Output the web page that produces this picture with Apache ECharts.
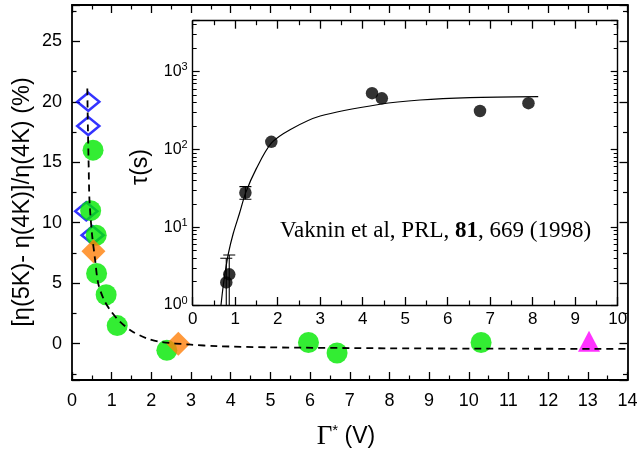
<!DOCTYPE html>
<html><head><meta charset="utf-8">
<script src="https://cdn.jsdelivr.net/npm/echarts@6/dist/echarts.min.js"></script>
<style>html,body{margin:0;padding:0;background:#fff}#c{width:641px;height:453px}</style>
</head><body><div id="c"></div>
<script>
// ---- main plot data ----
const blueOpen = [[0.41,20.0],[0.41,18.0],[0.36,10.95],[0.52,8.97]];
const greenPts = [[0.53,16.0],[0.47,11.0],[0.61,8.97],[0.62,5.8],[0.86,4.05],[1.14,1.5],[2.39,-0.55],[5.96,0.1],[6.68,-0.77],[10.31,0.1]];
const orangePts = [[0.54,7.65],[2.68,0.0]];
const magentaPts = [[13.03,0.2]];
const mainFit = [[0.386,21.1],[0.40,18.0],[0.42,14.7],[0.44,11.9],[0.50,9.2],[0.58,7.0],[0.66,5.0],[0.81,3.6],[0.98,2.7],[1.2,1.85],[1.5,1.05],[1.88,0.45],[2.22,0.15],[3.0,-0.08],[3.65,-0.2],[5,-0.3],[8,-0.38],[11,-0.41],[14,-0.43]];
// ---- inset data ----
const tauPts = [[0.79,1.95],[0.86,2.48],[1.24,27.7],[1.85,125],[4.22,527],[4.45,453],[6.76,311],[7.9,392]];
const tauErr = [[0.79,0.6,3.98],[0.86,0.6,4.4],[1.24,22.8,33.2]];
const tauFit = [[0.666,1.0],[0.706,1.56],[0.76,2.55],[0.84,4.6],[0.955,8.35],[1.1,15],[1.25,28],[1.5,57],[1.85,120],[2.3,180],[3.0,268],[4.41,380],[5.35,431],[6.52,462],[8.13,476]];
// ---- axis ranges ----
const mainX = [0, 14], mainY = [-3, 28];
const insetX = [0, 10], insetY = [1, 4500];

const chart = echarts.init(document.getElementById('c'), null, {renderer:'canvas'});
const FONT = 'Liberation Sans';
const axLine = {show:true, onZero:false, lineStyle:{color:'#000', width:1.8}};
const axLineI = {show:true, onZero:false, lineStyle:{color:'#000', width:1.4}};
function xAx(grid, pos, range, labels, fs, margin, line) {
  return {type:'value', gridIndex:grid, position:pos, min:range[0], max:range[1], interval:1,
    axisLine:line, splitLine:{show:false},
    axisTick:{show:true, inside:true, length:8, lineStyle:{color:'#000', width:1.3}},
    minorTick:{show:true, splitNumber:2, length:4.5, lineStyle:{color:'#000', width:1.2}},
    axisLabel:{show:labels, fontSize:fs, color:'#000', fontFamily:FONT, margin:margin}};
}
function yMain(pos, labels) {
  return {type:'value', gridIndex:0, position:pos, min:mainY[0], max:mainY[1],
    axisLine:axLine, splitLine:{show:false},
    axisTick:{show:true, inside:true, length:8, lineStyle:{color:'#000', width:1.3}},
    minorTick:{show:true, splitNumber:2, length:4.5, lineStyle:{color:'#000', width:1.2}},
    axisLabel:{show:labels, fontSize:18, color:'#000', fontFamily:FONT, margin:10,
      showMinLabel:false, showMaxLabel:false,
      formatter: v => (Math.abs(v % 5) < 1e-9 ? String(v) : '')}};
}
function yInset(pos, labels) {
  return {type:'log', logBase:10, gridIndex:1, position:pos, min:insetY[0], max:insetY[1],
    axisLine:axLineI, splitLine:{show:false},
    axisTick:{show:true, inside:true, length:7, lineStyle:{color:'#000', width:1.2}},
    minorTick:{show:true, splitNumber:9, length:4, lineStyle:{color:'#000', width:1}},
    axisLabel:{show:labels, color:'#000', fontFamily:FONT, margin:5, showMaxLabel:false,
      formatter: v => { const e = Math.log10(v); return Math.abs(e - Math.round(e)) < 1e-6 ? '{n|10}{s|' + Math.round(e) + '}' : ''; },
      rich:{n:{fontSize:16, fontFamily:FONT, color:'#000', lineHeight:20}, s:{fontSize:11, fontFamily:FONT, color:'#000', verticalAlign:'top', lineHeight:11}}}};
}

const option = {
  animation:false,
  backgroundColor:'#fff',
  textStyle:{fontFamily:FONT},
  grid:[
    {left:72, top:5, width:555.5, height:375, containLabel:false},
    {left:192.7, top:20.7, width:425, height:284.3, containLabel:false}
  ],
  xAxis:[
    xAx(0,'bottom',mainX,true,18,12,axLine),
    xAx(0,'top',mainX,false,18,12,axLine),
    xAx(1,'bottom',insetX,true,17,6,axLineI),
    xAx(1,'top',insetX,false,17,6,axLineI)
  ],
  yAxis:[ yMain('left',true), yMain('right',false), yInset('left',true), yInset('right',false) ],
  graphic:[
    {type:'text', x:23, y:202, rotation:Math.PI/2,
      style:{text:'[η(5K)- η(4K)]/η(4K) (%)', font:'23.5px "Liberation Sans"', fill:'#000', align:'center', verticalAlign:'middle'}},
    {type:'text', x:346, y:437,
      style:{text:'{g|Γ}{s|*}{v| (V)}', fill:'#000', align:'center', verticalAlign:'middle',
        rich:{g:{fontFamily:'Liberation Serif', fontSize:27, fill:'#000'}, s:{fontFamily:FONT, fontSize:15, verticalAlign:'top', fill:'#000'}, v:{fontFamily:FONT, fontSize:23, fill:'#000'}}}},
    {type:'text', x:141, y:167, rotation:Math.PI/2,
      style:{text:'τ(s)', font:'23px "Liberation Sans"', fill:'#000', align:'center', verticalAlign:'middle'}},
    {type:'text', x:280, y:231,
      style:{text:'Vaknin et al, PRL, {b|81}, 669 (1998)', font:'23px "Liberation Serif"', fill:'#000', align:'left', verticalAlign:'middle',
        rich:{b:{fontFamily:'Liberation Serif', fontSize:23, fontWeight:'bold', fill:'#000'}}}}
  ],
  series:[
    {type:'scatter', xAxisIndex:0, yAxisIndex:0, data:blueOpen, symbol:'diamond', symbolSize:[22,18], z:2,
      itemStyle:{color:'rgba(0,0,0,0)', borderColor:'#0000ff', borderWidth:2.6}},
    {type:'scatter', xAxisIndex:0, yAxisIndex:0, data:greenPts, symbol:'circle', symbolSize:21, z:3,
      itemStyle:{color:'#00e800'}},
    {type:'scatter', xAxisIndex:0, yAxisIndex:0, data:orangePts, symbol:'diamond', symbolSize:[24,24], z:4,
      itemStyle:{color:'#ff7f0a'}},
    {type:'scatter', xAxisIndex:0, yAxisIndex:0, data:magentaPts, symbol:'triangle', symbolSize:[22,21], z:4,
      itemStyle:{color:'#ff00ff'}},
    {type:'line', xAxisIndex:0, yAxisIndex:0, data:mainFit, showSymbol:false, smooth:0.3, z:6,
      lineStyle:{color:'#000', width:1.8, type:[7,5]}},
    {type:'line', xAxisIndex:2, yAxisIndex:2, data:tauFit, showSymbol:false, smooth:0.3, z:5, clip:true,
      lineStyle:{color:'#000', width:1.2}},
    {type:'custom', xAxisIndex:2, yAxisIndex:2, data:tauErr, z:5, clip:true,
      renderItem:(params, api) => {
        const x = api.value(0), lo = api.value(1), hi = api.value(2);
        const p1 = api.coord([x, lo]), p2 = api.coord([x, hi]);
        const w = 6, st = {stroke:'#000', lineWidth:1.1};
        return {type:'group', children:[
          {type:'line', shape:{x1:p1[0], y1:p1[1], x2:p2[0], y2:p2[1]}, style:st},
          {type:'line', shape:{x1:p2[0]-w, y1:p2[1], x2:p2[0]+w, y2:p2[1]}, style:st},
          {type:'line', shape:{x1:p1[0]-w, y1:p1[1], x2:p1[0]+w, y2:p1[1]}, style:st}
        ]};
      }},
    {type:'scatter', xAxisIndex:2, yAxisIndex:2, data:tauPts, symbol:'circle', symbolSize:12.5, z:6,
      itemStyle:{color:'#000'}}
  ]
};
chart.setOption(option);
</script></body></html>
